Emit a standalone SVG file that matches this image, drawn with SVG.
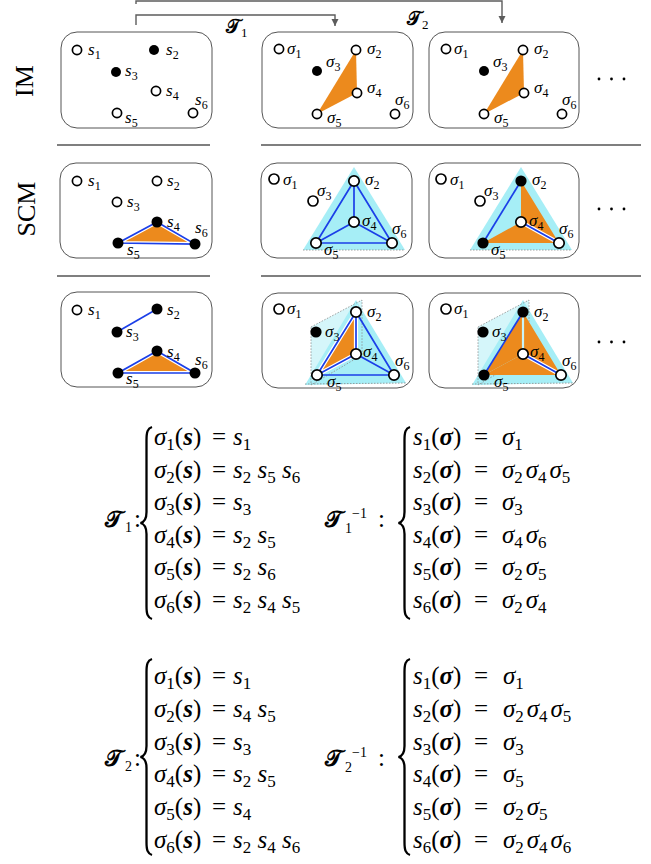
<svg xmlns="http://www.w3.org/2000/svg" width="651" height="864" viewBox="0 0 651 864">
<defs>
<style>
.panel{fill:#fff;stroke:#555;stroke-width:1}
.sep{stroke:#000;stroke-width:1.2}
.o{fill:#fff;stroke:#000;stroke-width:1.7}
.f{fill:#000}
.or{fill:#ec8a1d}
.cy{fill:#a6eef6}
.lc{fill:#d5f6fa}
.dot{fill:none;stroke:#8a8a8a;stroke-width:0.8;stroke-dasharray:1.5 1.5}
.bl{fill:none;stroke:#1b3fe8;stroke-width:1.7}
.wb{fill:none;stroke:#fff;stroke-width:4.2}
.gap{fill:none;stroke:#c9f4f8;stroke-width:2.2}
.conn{fill:none;stroke:#5c5c5c;stroke-width:1.4}
.nl{font-family:"Liberation Serif",serif;font-style:italic;font-size:17px}
.ns{font-style:normal;font-size:12px}
.eq{font-family:"Liberation Serif",serif;font-size:25px}
.it{font-style:italic}
.bf{font-style:italic;font-weight:bold}
.sb{font-size:17px;font-style:normal;font-weight:normal}
.ss{font-size:14px;font-style:normal;font-weight:normal}
.cal{font-family:"DejaVu Serif","DejaVu Sans","Noto Sans",serif;font-size:23px;font-weight:bold}
.brace{fill:none;stroke:#000;stroke-width:2.3}
.rowlbl{font-family:"Liberation Serif",serif;font-size:26px}
.dots{fill:#000}
</style>
<marker id="ah" markerWidth="8" markerHeight="8" refX="7" refY="3.5" orient="auto" markerUnits="userSpaceOnUse"><path d="M0,0 L7,3.5 L0,7 z" fill="#5c5c5c"/></marker>
</defs>
<rect width="651" height="864" fill="#fff"/>

<g id="connectors">
<path class="conn" d="M136,4 V1 H502 V23" marker-end="url(#ah)"/>
<path class="conn" d="M136,25 V15 H335 V26" marker-end="url(#ah)"/>
<text class="eq" y="33"><tspan x="226" class="cal" style="font-size:19px">𝒯</tspan><tspan class="sb" style="font-size:13px" x="241" dy="4">1</tspan></text>
<text class="eq" y="25"><tspan x="407" class="cal" style="font-size:19px">𝒯</tspan><tspan class="sb" style="font-size:13px" x="422" dy="4">2</tspan></text>
</g>

<g id="row-labels">
<text class="rowlbl" transform="translate(33,81) rotate(-90)" text-anchor="middle">IM</text>
<text class="rowlbl" transform="translate(35,209) rotate(-90)" text-anchor="middle">SCM</text>
</g>

<g id="separators">
<line class="sep" x1="57" y1="145" x2="210" y2="145"/>
<line class="sep" x1="261" y1="145" x2="641" y2="145"/>
<line class="sep" x1="57" y1="276" x2="210" y2="276"/>
<line class="sep" x1="261" y1="276" x2="641" y2="276"/>
</g>

<!-- Row 1 -->
<g id="panel-IM-s">
<rect class="panel" x="61" y="32" width="151" height="96" rx="16"/>
<circle class="o" cx="77" cy="50" r="4.6"/>
<circle class="f" cx="154" cy="50" r="5"/>
<circle class="f" cx="116" cy="72" r="5"/>
<circle class="o" cx="156" cy="91" r="4.6"/>
<circle class="o" cx="117" cy="113" r="4.6"/>
<circle class="o" cx="193" cy="113" r="4.6"/>
<text class="nl" x="88" y="55">s<tspan class="ns" dy="4">1</tspan></text>
<text class="nl" x="166" y="55">s<tspan class="ns" dy="4">2</tspan></text>
<text class="nl" x="125" y="76">s<tspan class="ns" dy="4">3</tspan></text>
<text class="nl" x="166" y="96">s<tspan class="ns" dy="4">4</tspan></text>
<text class="nl" x="125" y="123">s<tspan class="ns" dy="4">5</tspan></text>
<text class="nl" x="195" y="105">s<tspan class="ns" dy="4">6</tspan></text>
</g>

<g id="panel-IM-T1">
<rect class="panel" x="262" y="32" width="151" height="96" rx="16"/>
<polygon class="or" points="356,50 357,93 317,114"/>
<circle class="o" cx="279" cy="49" r="4.6"/>
<circle class="o" cx="356" cy="50" r="4.6"/>
<circle class="f" cx="317" cy="71" r="5"/>
<circle class="o" cx="357" cy="93" r="4.6"/>
<circle class="o" cx="317" cy="114" r="4.6"/>
<circle class="o" cx="395" cy="114" r="4.6"/>
<text class="nl" x="287" y="54">σ<tspan class="ns" dy="4">1</tspan></text>
<text class="nl" x="367" y="54">σ<tspan class="ns" dy="4">2</tspan></text>
<text class="nl" x="326" y="67">σ<tspan class="ns" dy="4">3</tspan></text>
<text class="nl" x="367" y="93">σ<tspan class="ns" dy="4">4</tspan></text>
<text class="nl" x="327" y="123">σ<tspan class="ns" dy="4">5</tspan></text>
<text class="nl" x="395" y="105">σ<tspan class="ns" dy="4">6</tspan></text>
</g>

<g id="panel-IM-T2">
<rect class="panel" x="429" y="32" width="150" height="96" rx="16"/>
<polygon class="or" points="523,50 524,93 484,114"/>
<circle class="o" cx="446" cy="49" r="4.6"/>
<circle class="o" cx="523" cy="50" r="4.6"/>
<circle class="f" cx="484" cy="71" r="5"/>
<circle class="o" cx="524" cy="93" r="4.6"/>
<circle class="o" cx="484" cy="114" r="4.6"/>
<circle class="o" cx="562" cy="114" r="4.6"/>
<text class="nl" x="454" y="54">σ<tspan class="ns" dy="4">1</tspan></text>
<text class="nl" x="534" y="54">σ<tspan class="ns" dy="4">2</tspan></text>
<text class="nl" x="493" y="67">σ<tspan class="ns" dy="4">3</tspan></text>
<text class="nl" x="534" y="93">σ<tspan class="ns" dy="4">4</tspan></text>
<text class="nl" x="494" y="123">σ<tspan class="ns" dy="4">5</tspan></text>
<text class="nl" x="562" y="105">σ<tspan class="ns" dy="4">6</tspan></text>
</g>
<g id="dots-1"><circle class="dots" cx="599" cy="79" r="1.4"/><circle class="dots" cx="611.5" cy="79" r="1.4"/><circle class="dots" cx="624" cy="79" r="1.4"/></g>

<!-- Row 2 -->
<g id="panel-SCM-s">
<rect class="panel" x="60" y="163" width="152" height="95" rx="16"/>
<polygon class="or" points="157,222 118,243 195,244"/>
<path class="wb" d="M157,222 L118,243 L195,244 Z"/>
<path class="bl" d="M157,222 L118,243 L195,244 Z"/>
<circle class="o" cx="77" cy="181" r="4.6"/>
<circle class="o" cx="157" cy="181" r="4.6"/>
<circle class="o" cx="117" cy="202" r="4.6"/>
<circle class="f" cx="157" cy="222" r="5.5"/>
<circle class="f" cx="118" cy="243" r="5.5"/>
<circle class="f" cx="195" cy="244" r="5.5"/>
<text class="nl" x="88" y="186">s<tspan class="ns" dy="4">1</tspan></text>
<text class="nl" x="167" y="186">s<tspan class="ns" dy="4">2</tspan></text>
<text class="nl" x="127" y="207">s<tspan class="ns" dy="4">3</tspan></text>
<text class="nl" x="167" y="227">s<tspan class="ns" dy="4">4</tspan></text>
<text class="nl" x="127" y="255">s<tspan class="ns" dy="4">5</tspan></text>
<text class="nl" x="195" y="233">s<tspan class="ns" dy="4">6</tspan></text>
</g>

<g id="panel-SCM-T1">
<rect class="panel" x="261" y="163" width="151" height="95" rx="16"/>
<polygon class="cy" points="354,167 303,250 405,250"/>
<line class="dot" x1="303" y1="250" x2="405" y2="250"/>
<path class="bl" d="M354,181 L354,222 M354,181 L316,243 M354,181 L392,243 M354,222 L316,243 M354,222 L392,243 M316,243 L392,243"/>
<circle class="o" cx="274" cy="179" r="5"/>
<circle class="o" cx="354" cy="181" r="5.2"/>
<circle class="o" cx="313" cy="201" r="5"/>
<circle class="o" cx="354" cy="222" r="5.2"/>
<circle class="o" cx="316" cy="243" r="5.2"/>
<circle class="o" cx="392" cy="243" r="5.2"/>
<text class="nl" x="283" y="185">σ<tspan class="ns" dy="4">1</tspan></text>
<text class="nl" x="365" y="185">σ<tspan class="ns" dy="4">2</tspan></text>
<text class="nl" x="317" y="196">σ<tspan class="ns" dy="4">3</tspan></text>
<text class="nl" x="362" y="226">σ<tspan class="ns" dy="4">4</tspan></text>
<text class="nl" x="324" y="255">σ<tspan class="ns" dy="4">5</tspan></text>
<text class="nl" x="392" y="234">σ<tspan class="ns" dy="4">6</tspan></text>
</g>

<g id="panel-SCM-T2">
<rect class="panel" x="429" y="163" width="150" height="95" rx="16"/>
<polygon class="cy" points="521,167 470,250 572,250"/>
<line class="dot" x1="470" y1="250" x2="572" y2="250"/>
<polygon class="or" points="521,181 559,243 483,243 521,222"/>
<path class="bl" d="M521,181 L483,243"/>
<path class="wb" d="M521,222 L559,243"/>
<path class="bl" d="M521,222 L559,243"/>
<circle class="o" cx="441" cy="179" r="5"/>
<circle class="f" cx="521" cy="181" r="5.6"/>
<circle class="o" cx="480" cy="201" r="5"/>
<circle class="o" cx="521" cy="222" r="5.2"/>
<circle class="f" cx="483" cy="243" r="5.6"/>
<circle class="o" cx="559" cy="243" r="5.2"/>
<text class="nl" x="450" y="185">σ<tspan class="ns" dy="4">1</tspan></text>
<text class="nl" x="532" y="185">σ<tspan class="ns" dy="4">2</tspan></text>
<text class="nl" x="484" y="196">σ<tspan class="ns" dy="4">3</tspan></text>
<text class="nl" x="529" y="226">σ<tspan class="ns" dy="4">4</tspan></text>
<text class="nl" x="491" y="255">σ<tspan class="ns" dy="4">5</tspan></text>
<text class="nl" x="559" y="234">σ<tspan class="ns" dy="4">6</tspan></text>
</g>
<g id="dots-2"><circle class="dots" cx="599" cy="209" r="1.4"/><circle class="dots" cx="611.5" cy="209" r="1.4"/><circle class="dots" cx="624" cy="209" r="1.4"/></g>

<!-- Row 3 -->
<g id="panel-3-s">
<rect class="panel" x="61" y="292" width="151" height="95" rx="16"/>
<path class="bl" d="M157,309 L117,332"/>
<polygon class="or" points="157,351 118,373 195,373"/>
<path class="wb" d="M157,351 L118,373 L195,373 Z"/>
<path class="bl" d="M157,351 L118,373 L195,373 Z"/>
<circle class="o" cx="77" cy="310" r="4.6"/>
<circle class="f" cx="157" cy="309" r="5.5"/>
<circle class="f" cx="117" cy="332" r="5.5"/>
<circle class="f" cx="157" cy="351" r="5.5"/>
<circle class="f" cx="118" cy="373" r="5.5"/>
<circle class="f" cx="195" cy="373" r="5.5"/>
<text class="nl" x="88" y="315">s<tspan class="ns" dy="4">1</tspan></text>
<text class="nl" x="167" y="315">s<tspan class="ns" dy="4">2</tspan></text>
<text class="nl" x="126" y="337">s<tspan class="ns" dy="4">3</tspan></text>
<text class="nl" x="167" y="357">s<tspan class="ns" dy="4">4</tspan></text>
<text class="nl" x="126" y="384">s<tspan class="ns" dy="4">5</tspan></text>
<text class="nl" x="195" y="365">s<tspan class="ns" dy="4">6</tspan></text>
</g>

<g id="panel-3-T1">
<rect class="panel" x="262" y="293" width="151" height="95" rx="16"/>
<polygon class="lc" points="311,327 362,300 362,355 311,385"/>
<polygon class="cy" points="356,300 305,385 406,383"/>
<polygon class="dot" points="311,327 362,300 362,355 311,385"/>
<line class="dot" x1="305" y1="384" x2="406" y2="383"/>
<polygon class="or" points="356,312 356,354 317,375"/>
<path class="bl" d="M356,312 L394,375 M356,354 L394,375 M317,375 L394,375"/>
<path class="wb" d="M356,312 L356,354 L317,375 Z"/>
<path class="bl" d="M356,312 L356,354 L317,375 Z"/>
<circle class="o" cx="279" cy="309" r="5"/>
<circle class="o" cx="356" cy="312" r="5.2"/>
<circle class="f" cx="316" cy="332" r="5.6"/>
<circle class="o" cx="356" cy="354" r="5.2"/>
<circle class="o" cx="317" cy="375" r="5.2"/>
<circle class="o" cx="394" cy="375" r="5.2"/>
<text class="nl" x="287" y="314">σ<tspan class="ns" dy="4">1</tspan></text>
<text class="nl" x="367" y="317">σ<tspan class="ns" dy="4">2</tspan></text>
<text class="nl" x="325" y="337">σ<tspan class="ns" dy="4">3</tspan></text>
<text class="nl" x="363" y="357">σ<tspan class="ns" dy="4">4</tspan></text>
<text class="nl" x="327" y="387">σ<tspan class="ns" dy="4">5</tspan></text>
<text class="nl" x="395" y="366">σ<tspan class="ns" dy="4">6</tspan></text>
</g>

<g id="panel-3-T2">
<rect class="panel" x="429" y="293" width="150" height="95" rx="16"/>
<polygon class="lc" points="478,327 529,300 529,355 478,385"/>
<polygon class="cy" points="523,300 472,385 573,383"/>
<polygon class="dot" points="478,327 529,300 529,355 478,385"/>
<line class="dot" x1="472" y1="384" x2="573" y2="383"/>
<polygon class="or" points="523,312 523,354 484,375"/>
<polygon class="or" points="523,312 561,375 484,375 523,354"/>
<path class="gap" d="M523,317 L523,349"/>
<path class="bl" d="M523,312 L484,375"/>
<path class="wb" d="M523,354 L561,375"/>
<path class="bl" d="M523,354 L561,375"/>
<circle class="o" cx="446" cy="309" r="5"/>
<circle class="f" cx="523" cy="312" r="5.6"/>
<circle class="f" cx="483" cy="332" r="5.6"/>
<circle class="o" cx="523" cy="354" r="5.2"/>
<circle class="f" cx="484" cy="375" r="5.6"/>
<circle class="o" cx="561" cy="375" r="5.2"/>
<text class="nl" x="454" y="314">σ<tspan class="ns" dy="4">1</tspan></text>
<text class="nl" x="534" y="317">σ<tspan class="ns" dy="4">2</tspan></text>
<text class="nl" x="492" y="337">σ<tspan class="ns" dy="4">3</tspan></text>
<text class="nl" x="530" y="357">σ<tspan class="ns" dy="4">4</tspan></text>
<text class="nl" x="494" y="387">σ<tspan class="ns" dy="4">5</tspan></text>
<text class="nl" x="562" y="366">σ<tspan class="ns" dy="4">6</tspan></text>
</g>
<g id="dots-3"><circle class="dots" cx="599" cy="342" r="1.4"/><circle class="dots" cx="611.5" cy="342" r="1.4"/><circle class="dots" cx="624" cy="342" r="1.4"/></g>

<!-- Equations block 1 -->
<g id="eq-T1">
<text class="eq" y="527"><tspan x="105" class="cal">𝒯</tspan><tspan class="ss" x="125" dy="5">1</tspan><tspan x="134" dy="-5">:</tspan></text>
<path class="brace" d="M152,427 C147.5,428.5 146.5,432 146.5,440 L146.5,512 C146.5,519 144.5,522 140.5,523 C144.5,524 146.5,527 146.5,534 L146.5,606 C146.5,614 147.5,617.5 152,619"/>
<text class="eq" y="445"><tspan x="154" class="it">σ</tspan><tspan class="sb" dy="5">1</tspan><tspan dy="-5">(</tspan><tspan class="bf">s</tspan>)<tspan x="212">=</tspan><tspan x="233" class="it">s</tspan><tspan class="sb" dy="5">1</tspan></text>
<text class="eq" y="478"><tspan x="154" class="it">σ</tspan><tspan class="sb" dy="5">2</tspan><tspan dy="-5">(</tspan><tspan class="bf">s</tspan>)<tspan x="212">=</tspan><tspan x="233" class="it">s</tspan><tspan class="sb" dy="5">2</tspan><tspan x="257.5" dy="-5" class="it">s</tspan><tspan class="sb" dy="5">5</tspan><tspan x="282" dy="-5" class="it">s</tspan><tspan class="sb" dy="5">6</tspan></text>
<text class="eq" y="510"><tspan x="154" class="it">σ</tspan><tspan class="sb" dy="5">3</tspan><tspan dy="-5">(</tspan><tspan class="bf">s</tspan>)<tspan x="212">=</tspan><tspan x="233" class="it">s</tspan><tspan class="sb" dy="5">3</tspan></text>
<text class="eq" y="543"><tspan x="154" class="it">σ</tspan><tspan class="sb" dy="5">4</tspan><tspan dy="-5">(</tspan><tspan class="bf">s</tspan>)<tspan x="212">=</tspan><tspan x="233" class="it">s</tspan><tspan class="sb" dy="5">2</tspan><tspan x="257.5" dy="-5" class="it">s</tspan><tspan class="sb" dy="5">5</tspan></text>
<text class="eq" y="575"><tspan x="154" class="it">σ</tspan><tspan class="sb" dy="5">5</tspan><tspan dy="-5">(</tspan><tspan class="bf">s</tspan>)<tspan x="212">=</tspan><tspan x="233" class="it">s</tspan><tspan class="sb" dy="5">2</tspan><tspan x="257.5" dy="-5" class="it">s</tspan><tspan class="sb" dy="5">6</tspan></text>
<text class="eq" y="608"><tspan x="154" class="it">σ</tspan><tspan class="sb" dy="5">6</tspan><tspan dy="-5">(</tspan><tspan class="bf">s</tspan>)<tspan x="212">=</tspan><tspan x="233" class="it">s</tspan><tspan class="sb" dy="5">2</tspan><tspan x="257.5" dy="-5" class="it">s</tspan><tspan class="sb" dy="5">4</tspan><tspan x="282" dy="-5" class="it">s</tspan><tspan class="sb" dy="5">5</tspan></text>
</g>

<g id="eq-T1inv">
<text class="eq" y="527"><tspan x="325" class="cal">𝒯</tspan><tspan class="ss" x="345" dy="6">1</tspan></text>
<text class="eq" y="518"><tspan class="ss" x="352">−1</tspan><tspan x="378" dy="9">:</tspan></text>
<path class="brace" d="M410,427 C405.5,428.5 404.5,432 404.5,440 L404.5,512 C404.5,519 402.5,522 398.5,523 C402.5,524 404.5,527 404.5,534 L404.5,606 C404.5,614 405.5,617.5 410,619"/>
<text class="eq" y="445"><tspan x="413" class="it">s</tspan><tspan class="sb" dy="5">1</tspan><tspan dy="-5">(</tspan><tspan class="bf">σ</tspan>)<tspan x="474">=</tspan><tspan x="502" class="it">σ</tspan><tspan class="sb" dy="5">1</tspan></text>
<text class="eq" y="478"><tspan x="413" class="it">s</tspan><tspan class="sb" dy="5">2</tspan><tspan dy="-5">(</tspan><tspan class="bf">σ</tspan>)<tspan x="474">=</tspan><tspan x="502" class="it">σ</tspan><tspan class="sb" dy="5">2</tspan><tspan x="525.7" dy="-5" class="it">σ</tspan><tspan class="sb" dy="5">4</tspan><tspan x="549.4" dy="-5" class="it">σ</tspan><tspan class="sb" dy="5">5</tspan></text>
<text class="eq" y="510"><tspan x="413" class="it">s</tspan><tspan class="sb" dy="5">3</tspan><tspan dy="-5">(</tspan><tspan class="bf">σ</tspan>)<tspan x="474">=</tspan><tspan x="502" class="it">σ</tspan><tspan class="sb" dy="5">3</tspan></text>
<text class="eq" y="543"><tspan x="413" class="it">s</tspan><tspan class="sb" dy="5">4</tspan><tspan dy="-5">(</tspan><tspan class="bf">σ</tspan>)<tspan x="474">=</tspan><tspan x="502" class="it">σ</tspan><tspan class="sb" dy="5">4</tspan><tspan x="525.7" dy="-5" class="it">σ</tspan><tspan class="sb" dy="5">6</tspan></text>
<text class="eq" y="575"><tspan x="413" class="it">s</tspan><tspan class="sb" dy="5">5</tspan><tspan dy="-5">(</tspan><tspan class="bf">σ</tspan>)<tspan x="474">=</tspan><tspan x="502" class="it">σ</tspan><tspan class="sb" dy="5">2</tspan><tspan x="525.7" dy="-5" class="it">σ</tspan><tspan class="sb" dy="5">5</tspan></text>
<text class="eq" y="608"><tspan x="413" class="it">s</tspan><tspan class="sb" dy="5">6</tspan><tspan dy="-5">(</tspan><tspan class="bf">σ</tspan>)<tspan x="474">=</tspan><tspan x="502" class="it">σ</tspan><tspan class="sb" dy="5">2</tspan><tspan x="525.7" dy="-5" class="it">σ</tspan><tspan class="sb" dy="5">4</tspan></text>
</g>

<!-- Equations block 2 -->
<g id="eq-T2">
<text class="eq" y="766"><tspan x="105" class="cal">𝒯</tspan><tspan class="ss" x="125" dy="5">2</tspan><tspan x="134" dy="-5">:</tspan></text>
<path class="brace" d="M152,659 C147.5,660.5 146.5,664 146.5,672 L146.5,746 C146.5,753 144.5,756 140.5,757 C144.5,758 146.5,761 146.5,768 L146.5,842 C146.5,850 147.5,853.5 152,855"/>
<text class="eq" y="684"><tspan x="154" class="it">σ</tspan><tspan class="sb" dy="5">1</tspan><tspan dy="-5">(</tspan><tspan class="bf">s</tspan>)<tspan x="212">=</tspan><tspan x="233" class="it">s</tspan><tspan class="sb" dy="5">1</tspan></text>
<text class="eq" y="717"><tspan x="154" class="it">σ</tspan><tspan class="sb" dy="5">2</tspan><tspan dy="-5">(</tspan><tspan class="bf">s</tspan>)<tspan x="212">=</tspan><tspan x="233" class="it">s</tspan><tspan class="sb" dy="5">4</tspan><tspan x="257.5" dy="-5" class="it">s</tspan><tspan class="sb" dy="5">5</tspan></text>
<text class="eq" y="750"><tspan x="154" class="it">σ</tspan><tspan class="sb" dy="5">3</tspan><tspan dy="-5">(</tspan><tspan class="bf">s</tspan>)<tspan x="212">=</tspan><tspan x="233" class="it">s</tspan><tspan class="sb" dy="5">3</tspan></text>
<text class="eq" y="782"><tspan x="154" class="it">σ</tspan><tspan class="sb" dy="5">4</tspan><tspan dy="-5">(</tspan><tspan class="bf">s</tspan>)<tspan x="212">=</tspan><tspan x="233" class="it">s</tspan><tspan class="sb" dy="5">2</tspan><tspan x="257.5" dy="-5" class="it">s</tspan><tspan class="sb" dy="5">5</tspan></text>
<text class="eq" y="815"><tspan x="154" class="it">σ</tspan><tspan class="sb" dy="5">5</tspan><tspan dy="-5">(</tspan><tspan class="bf">s</tspan>)<tspan x="212">=</tspan><tspan x="233" class="it">s</tspan><tspan class="sb" dy="5">4</tspan></text>
<text class="eq" y="848"><tspan x="154" class="it">σ</tspan><tspan class="sb" dy="5">6</tspan><tspan dy="-5">(</tspan><tspan class="bf">s</tspan>)<tspan x="212">=</tspan><tspan x="233" class="it">s</tspan><tspan class="sb" dy="5">2</tspan><tspan x="257.5" dy="-5" class="it">s</tspan><tspan class="sb" dy="5">4</tspan><tspan x="282" dy="-5" class="it">s</tspan><tspan class="sb" dy="5">6</tspan></text>
</g>

<g id="eq-T2inv">
<text class="eq" y="766"><tspan x="325" class="cal">𝒯</tspan><tspan class="ss" x="345" dy="6">2</tspan></text>
<text class="eq" y="757"><tspan class="ss" x="352">−1</tspan><tspan x="378" dy="9">:</tspan></text>
<path class="brace" d="M410,659 C405.5,660.5 404.5,664 404.5,672 L404.5,746 C404.5,753 402.5,756 398.5,757 C402.5,758 404.5,761 404.5,768 L404.5,842 C404.5,850 405.5,853.5 410,855"/>
<text class="eq" y="684"><tspan x="413" class="it">s</tspan><tspan class="sb" dy="5">1</tspan><tspan dy="-5">(</tspan><tspan class="bf">σ</tspan>)<tspan x="474">=</tspan><tspan x="503" class="it">σ</tspan><tspan class="sb" dy="5">1</tspan></text>
<text class="eq" y="717"><tspan x="413" class="it">s</tspan><tspan class="sb" dy="5">2</tspan><tspan dy="-5">(</tspan><tspan class="bf">σ</tspan>)<tspan x="474">=</tspan><tspan x="503" class="it">σ</tspan><tspan class="sb" dy="5">2</tspan><tspan x="526.7" dy="-5" class="it">σ</tspan><tspan class="sb" dy="5">4</tspan><tspan x="550.4" dy="-5" class="it">σ</tspan><tspan class="sb" dy="5">5</tspan></text>
<text class="eq" y="750"><tspan x="413" class="it">s</tspan><tspan class="sb" dy="5">3</tspan><tspan dy="-5">(</tspan><tspan class="bf">σ</tspan>)<tspan x="474">=</tspan><tspan x="503" class="it">σ</tspan><tspan class="sb" dy="5">3</tspan></text>
<text class="eq" y="782"><tspan x="413" class="it">s</tspan><tspan class="sb" dy="5">4</tspan><tspan dy="-5">(</tspan><tspan class="bf">σ</tspan>)<tspan x="474">=</tspan><tspan x="503" class="it">σ</tspan><tspan class="sb" dy="5">5</tspan></text>
<text class="eq" y="815"><tspan x="413" class="it">s</tspan><tspan class="sb" dy="5">5</tspan><tspan dy="-5">(</tspan><tspan class="bf">σ</tspan>)<tspan x="474">=</tspan><tspan x="503" class="it">σ</tspan><tspan class="sb" dy="5">2</tspan><tspan x="526.7" dy="-5" class="it">σ</tspan><tspan class="sb" dy="5">5</tspan></text>
<text class="eq" y="848"><tspan x="413" class="it">s</tspan><tspan class="sb" dy="5">6</tspan><tspan dy="-5">(</tspan><tspan class="bf">σ</tspan>)<tspan x="474">=</tspan><tspan x="503" class="it">σ</tspan><tspan class="sb" dy="5">2</tspan><tspan x="526.7" dy="-5" class="it">σ</tspan><tspan class="sb" dy="5">4</tspan><tspan x="550.4" dy="-5" class="it">σ</tspan><tspan class="sb" dy="5">6</tspan></text>
</g>
</svg>
